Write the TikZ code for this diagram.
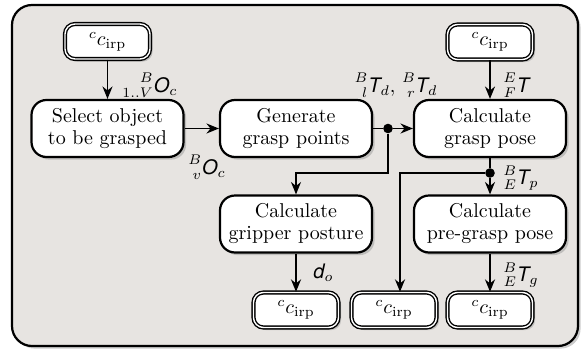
\documentclass[tikz,border=0pt]{standalone}
\usepackage{mathtools}
\usepackage{fontspec}
\newfontfamily\hvfont{TeX Gyre Heros}
\usetikzlibrary{arrows.meta,shadows}
% sans-serif italic symbols used in the flow labels
\newcommand\sv[1]{\mbox{\hvfont\itshape #1}}
\newcommand\cirp{$^{c}c_{\mathrm{irp}}$}
\definecolor{panel}{RGB}{231,228,225}
\tikzset{
  boxshadow/.style={drop shadow={shadow xshift=1.3pt,shadow yshift=-1.3pt,fill=black!40}},
  proc/.style={draw,fill=white,line width=1.1pt,rounded corners=7.5pt,align=center,
    minimum width=76pt,minimum height=28.5pt,inner sep=2pt,boxshadow},
  ioport/.style={draw,double=white,double distance=0.7pt,line width=0.7pt,fill=white,
    rounded corners=5pt,minimum width=42.5pt,minimum height=17.5pt,inner sep=1pt,boxshadow},
  flow/.style={line width=0.9pt,-{Stealth[length=6.2pt,width=5pt,inset=2pt]}},
  plain/.style={line width=0.9pt},
  dot/.style={circle,fill=black,inner sep=0pt,minimum size=4.8pt},
  lbl/.style={inner sep=0pt,font=\fontsize{10}{12}\selectfont}
}
\begin{document}
\begin{tikzpicture}[x=0.5pt,y=-0.5pt,font=\fontsize{10}{11}\selectfont]
\useasboundingbox (0,0) rectangle (588,354);
% background panel
\draw[fill=panel,line width=1.1pt,rounded corners=10pt,boxshadow] (12,5) rectangle (578,346);

% sources and sinks
\node[ioport] (src1) at (107.5,41.5) {\cirp};
\node[ioport] (src2) at (490,42) {\cirp};
\node[ioport] (out1) at (296,310) {\cirp};
\node[ioport] (out2) at (394,310) {\cirp};
\node[ioport] (out3) at (490,310) {\cirp};

% processing steps
\node[proc] (sel)   at (107.5,128.5) {Select object\\to be grasped};
\node[proc] (gen)   at (296,128.5)   {Generate\\grasp points};
\node[proc] (grasp) at (490,128.5)   {Calculate\\grasp pose};
\node[proc] (grip)  at (296,224)     {Calculate\\gripper posture};
\node[proc] (pre)   at (490,224)     {Calculate\\pre-grasp pose};

% branch points
\node[dot] (d1) at (388,128.5) {};
\node[dot] (d2) at (490,173) {};
\coordinate (j1) at (388,173);

% connectors
\draw[flow] (src1) -- (sel);
\draw[flow] (sel) -- (gen);
\draw[plain] (gen) -- (d1);
\draw[flow] (d1) -- (grasp);
\draw[flow] (d1) -- (j1) -| (grip);
\draw[flow] (src2) -- (grasp);
\draw[plain] (grasp) -- (d2);
\draw[flow] (d2) -- (pre);
\draw[flow] (d2) -| ([xshift=3pt]out2.north);
\draw[flow] (grip) -- (out1);
\draw[flow] (pre) -- (out3);

% flow labels
\node[lbl,anchor=west] at (122,85) {$\prescript{B}{1..V}{\sv{O}}_c$};
\node[lbl] at (207,167) {$\prescript{B}{v}{\sv{O}}_c$};
\node[lbl] at (396,85) {$\prescript{B}{l}{\sv{T}}_d,\,\prescript{B}{r}{\sv{T}}_d$};
\node[lbl,anchor=west] at (503,85) {$\prescript{E}{F}{\sv{T}}$};
\node[lbl,anchor=west] at (503,178) {$\prescript{B}{E}{\sv{T}}_p$};
\node[lbl,anchor=west] at (313,273) {$\sv{d}_o$};
\node[lbl,anchor=west] at (503,275) {$\prescript{B}{E}{\sv{T}}_g$};
\end{tikzpicture}
\end{document}
